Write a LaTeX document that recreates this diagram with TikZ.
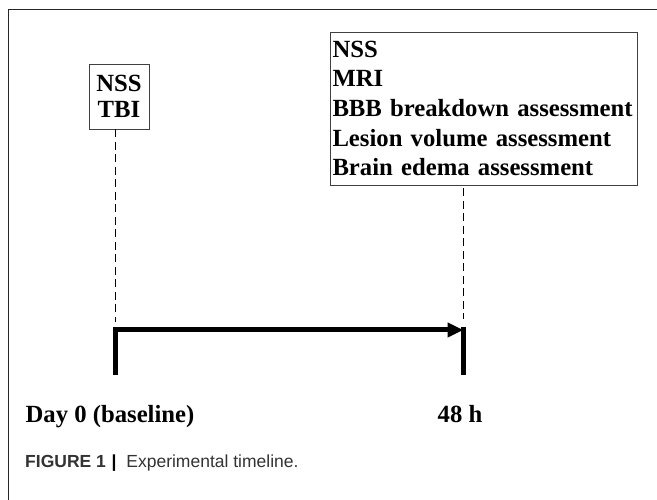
\documentclass[tikz,border=0pt]{standalone}
\usepackage{fontspec}
\setmainfont{Liberation Serif}
\newfontfamily\capfont{Liberation Sans}
\usetikzlibrary{arrows.meta}
\begin{document}
\begin{tikzpicture}[x=1pt,y=-1pt,
  lbl/.style={font=\fontsize{24.7}{29.6}\selectfont\bfseries},
  evbox/.style={draw=black!75, line width=0.8pt, lbl, inner ysep=0pt},
  dashline/.style={draw=black, line width=1.4pt, dash pattern=on 8pt off 4.5pt},
  tickbar/.style={line width=5pt, black, line join=miter}]
\useasboundingbox (0,0) rectangle (657,500);
% frame
\draw[line width=0.9pt, black!85] (8,500) -- (8,9) -- (657,9);
% event boxes
\node[evbox, minimum width=60pt, minimum height=65pt, inner xsep=2pt, align=center] (b1) at (119,96.5) {NSS\\[-3pt]TBI};
\node[evbox, minimum height=153pt, text width=302pt, inner xsep=2.5pt, align=left] (b2) at (483.5,108.5)
  {NSS\\MRI\\BBB breakdown assessment\\Lesion volume assessment\\Brain edema assessment};
% timeline coordinates
\coordinate (t0top) at (115.5,330);
\coordinate (t0bot) at (115.5,375);
\coordinate (t1end) at (463.5,330);
\coordinate (t1top) at (463.5,327.5);
\coordinate (t1bot) at (463.5,375);
% dashed guides
\draw[dashline, shorten >=8pt] (b1.south -| t0top) -- (t0top);
\draw[dashline, shorten >=8pt, shorten <=3pt] (b2.south -| t1top) -- (t1top);
% timeline
\draw[tickbar, -{Triangle[length=16pt,width=14pt]}] (t0bot) -- (t0top) -- (t1end);
\draw[tickbar] (t1top) -- (t1bot);
% labels
\node[lbl, anchor=base, inner sep=0pt] (d0) at (110,422) {Day 0 (baseline)};
\node[lbl, anchor=base, inner sep=0pt] (d2) at (460,422) {48 h};
% caption
\node[anchor=base west, inner sep=0pt, font=\capfont\fontsize{17.5}{21}\selectfont, text=black!80] (cap) at (25,467)
  {\textbf{FIGURE 1}\hspace{5.6pt}{\bfseries\color{black}|}\hspace{10pt}Experimental timeline.};
\end{tikzpicture}
\end{document}
